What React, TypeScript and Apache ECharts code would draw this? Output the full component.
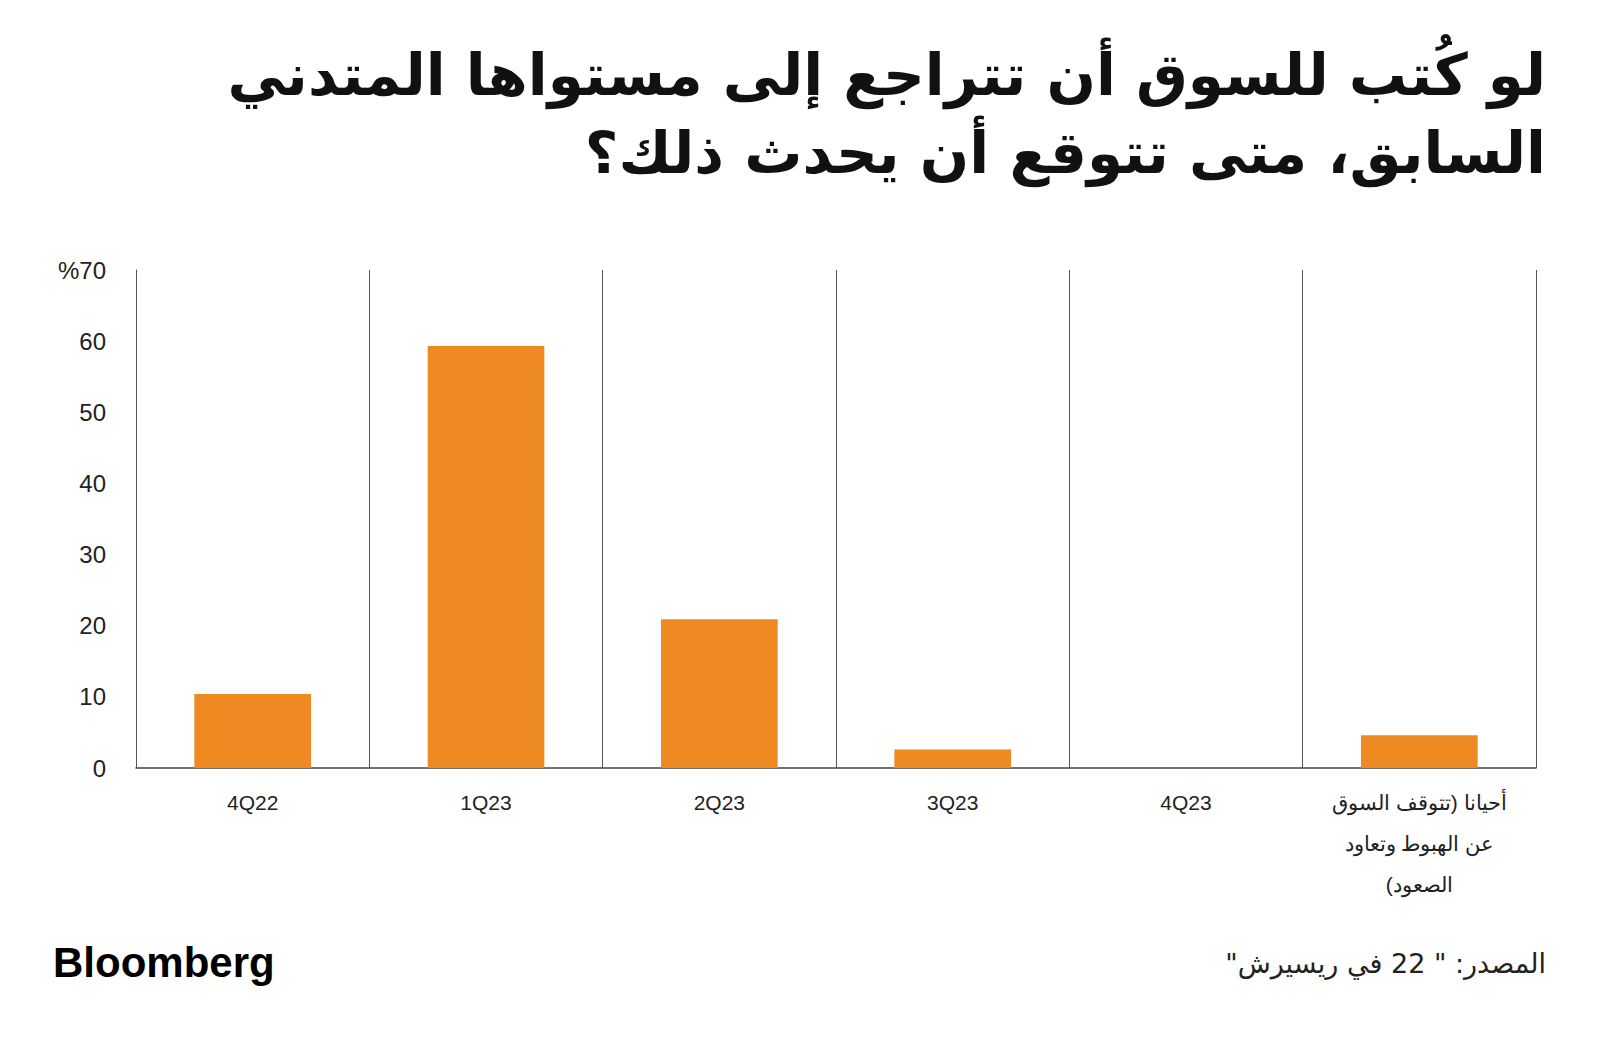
import React, { useEffect, useRef } from "react";
import * as echarts from "echarts";

const RLM = "\u200F";
const categories = [
  "4Q22",
  "1Q23",
  "2Q23",
  "3Q23",
  "4Q23",
  RLM + "أحيانا (تتوقف السوق" + RLM + "\n" + RLM + "عن الهبوط وتعاود" + RLM + "\n" + RLM + "الصعود)" + RLM,
];
const shares = [10.4, 59.3, 20.9, 2.6, 0, 4.6];
const yTicks = [0, 10, 20, 30, 40, 50, 60, 70];
const titleLines = [
  "لو كُتب للسوق أن تتراجع إلى مستواها المتدني",
  "السابق، متى تتوقع أن يحدث ذلك؟",
];
const sourceText = RLM + "المصدر: \" 22 في ريسيرش\"" + RLM;
const brandText = "Bloomberg";

export default function App() {
  const ref = useRef<HTMLDivElement>(null);
  useEffect(() => {
    if (!ref.current) return;
    const chart = echarts.init(ref.current, null, { renderer: "svg" });
    const arabicFont = "'DejaVu Sans', 'Noto Sans', sans-serif";
    const latinFont = "'Liberation Sans', Arial, sans-serif";
    chart.setOption({
      animation: false,
      backgroundColor: "#ffffff",
      grid: { left: 136, right: 64, top: 270, bottom: 274, containLabel: false },
      xAxis: {
        type: "category",
        data: categories,
        boundaryGap: true,
        axisLine: { show: true, lineStyle: { color: "#444444", width: 1.5 } },
        axisTick: { show: false },
        splitLine: { show: true, lineStyle: { color: "#555555", width: 1 } },
        axisLabel: {
          color: "#222222",
          fontSize: 21,
          fontFamily: latinFont,
          margin: 14,
          lineHeight: 41,
          interval: 0,
        },
      },
      yAxis: {
        type: "value",
        min: 0,
        max: 70,
        interval: 10,
        axisLine: { show: true, lineStyle: { color: "#555555", width: 1 } },
        axisTick: { show: false },
        splitLine: { show: false },
        axisLabel: {
          color: "#222222",
          fontSize: 24,
          fontFamily: latinFont,
          margin: 30,
          padding: [0, 0, 9, 0],
          formatter: (v: number) =>
            yTicks.includes(v) && v === 70 ? "%70" : String(v),
        },
      },
      series: [
        {
          type: "bar",
          data: shares,
          barWidth: "50%",
          itemStyle: { color: "#EE8A21" },
        },
      ],
      graphic: [
        {
          type: "text",
          right: 54,
          top: 46,
          style: {
            text: RLM + titleLines[0] + RLM,
            fontSize: 58,
            fontWeight: "bold",
            fontFamily: arabicFont,
            fill: "#111111",
            textAlign: "right",
          },
        },
        {
          type: "text",
          right: 54,
          top: 124,
          style: {
            text: RLM + titleLines[1] + RLM,
            fontSize: 58,
            fontWeight: "bold",
            fontFamily: arabicFont,
            fill: "#111111",
            textAlign: "right",
          },
        },
        {
          type: "text",
          left: 53,
          top: 941,
          style: {
            text: brandText,
            fontSize: 42,
            fontWeight: "bold",
            fontFamily: latinFont,
            fill: "#000000",
            letterSpacing: -1.4,
          },
        },
        {
          type: "text",
          right: 54,
          top: 950,
          style: {
            text: sourceText,
            fontSize: 27,
            fontFamily: arabicFont,
            fill: "#222222",
            textAlign: "right",
          },
        },
      ],
    });
    return () => chart.dispose();
  }, []);
  return (
    <div
      ref={ref}
      style={{ position: "fixed", left: 0, top: 0, width: 1600, height: 1042 }}
    />
  );
}
